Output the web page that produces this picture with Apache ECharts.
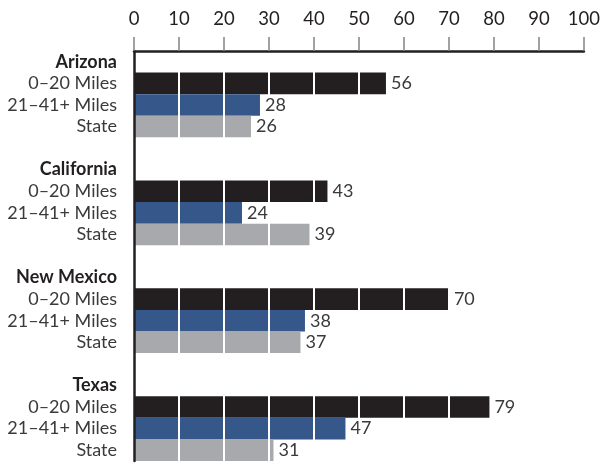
<!DOCTYPE html>
<html>
<head>
<meta charset="utf-8">
<script src="https://cdn.jsdelivr.net/npm/echarts@6/dist/echarts.min.js"></script>
<style>
  html, body { margin: 0; padding: 0; background: #fff; }
  #chart { width: 603px; height: 464px; }
</style>
</head>
<body>
<div id="chart"></div>
<script>
// Share of respondents by distance group, per state (percent)
const states = ['Arizona', 'California', 'New Mexico', 'Texas'];
const rowLabels = ['0–20 Miles', '21–41+ Miles', 'State'];
const near = [56, 43, 70, 79];   // 0–20 Miles
const far = [28, 24, 38, 47];    // 21–41+ Miles
const stateAvg = [26, 39, 37, 31]; // State
const xTicks = [0, 10, 20, 30, 40, 50, 60, 70, 80, 90, 100];

const groups = [near, far, stateAvg];
const colors = ['#231f20', '#36578a', '#a7a9ac'];

// Build the row list: a header row per state, its three bars, then a spacer
const categories = [];
const seriesData = [[], [], []];
states.forEach((st, si) => {
  categories.push('H|' + st);
  seriesData.forEach(d => d.push(null));
  rowLabels.forEach((lab, ri) => {
    categories.push('R|' + st + '|' + lab);
    seriesData.forEach((d, gi) => d.push(gi === ri ? groups[gi][si] : null));
  });
  if (si < states.length - 1) {
    categories.push('S|' + st);
    seriesData.forEach(d => d.push(null));
  }
});

const chart = echarts.init(document.getElementById('chart'), null, { renderer: 'canvas' });
const font = 'Lato, "Liberation Sans", sans-serif';

// Filled bars (below the white guide lines)
const barSeries = seriesData.map((d, gi) => ({
  type: 'bar', xAxisIndex: 0, data: d, z: 2,
  barWidth: '100%', barGap: '-100%',
  itemStyle: { color: colors[gi] },
  label: { show: false }
}));

// Transparent copies that carry the value labels above the guide lines
const labelSeries = seriesData.map(d => ({
  type: 'bar', xAxisIndex: 0, data: d, z: 8,
  barWidth: '100%', barGap: '-100%',
  itemStyle: { color: 'rgba(0,0,0,0)' },
  silent: true,
  label: {
    show: true, position: 'right', distance: 5,
    fontFamily: font, fontSize: 18, color: '#3a3a3c',
    formatter: p => (p.value == null ? '' : p.value)
  }
}));

chart.setOption({
  animation: false,
  backgroundColor: '#ffffff',
  grid: { left: 134, right: 14, top: 51, bottom: 3, containLabel: false },
  xAxis: [
    {
      type: 'value', position: 'top', min: xTicks[0], max: xTicks[xTicks.length - 1], interval: 10,
      z: 6,
      axisLine: { show: true, lineStyle: { color: '#231f20', width: 2.5 } },
      axisTick: { show: true, length: 14, lineStyle: { color: '#808285', width: 1.5 } },
      axisLabel: { margin: 22, fontFamily: font, fontSize: 18.5, color: '#231f20' },
      splitLine: { show: false }
    },
    {
      // white guide lines drawn across the bars
      type: 'value', position: 'bottom', min: 0, max: 100, interval: 10,
      z: 4,
      axisLine: { show: false }, axisTick: { show: false }, axisLabel: { show: false },
      splitLine: { show: true, lineStyle: { color: '#ffffff', width: 2 } }
    }
  ],
  yAxis: {
    type: 'category', inverse: true, data: categories,
    z: 6,
    axisLine: { show: true, lineStyle: { color: '#231f20', width: 2.5 } },
    axisTick: { show: false },
    splitLine: { show: false },
    axisLabel: {
      interval: 0, margin: 17, align: 'right',
      fontFamily: font, fontSize: 18, color: '#3a3a3c',
      formatter: v => {
        const p = v.split('|');
        if (p[0] === 'H') return '{h|' + p[1] + '}';
        if (p[0] === 'R') return p[2];
        return '';
      },
      rich: { h: { fontFamily: font, fontSize: 18, fontWeight: 'bold', color: '#231f20' } }
    }
  },
  series: barSeries.concat(labelSeries)
});
</script>
</body>
</html>
